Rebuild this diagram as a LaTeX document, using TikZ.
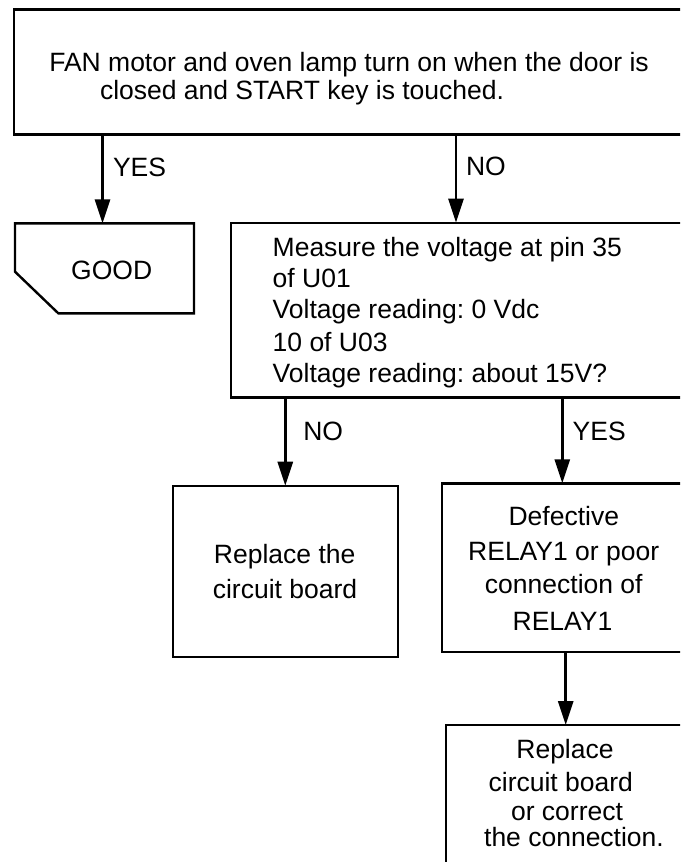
\documentclass[tikz,border=0pt]{standalone}
\usepackage{fontspec}
\setmainfont{Liberation Sans}
\usetikzlibrary{arrows.meta}
\frenchspacing
\begin{document}
\begin{tikzpicture}[x=1pt,y=-1pt,
  box/.style={draw=black, line width=2.4pt, rectangle, inner sep=0pt, outer sep=0pt},
  ghost/.style={rectangle, inner sep=0pt, outer sep=0pt},
  lbl/.style={inner sep=0pt, outer sep=0pt, font=\fontsize{26.5}{28}\selectfont},
  arr/.style={line width=2.9pt, -{Triangle[length=24pt,width=15pt]}},
]
\useasboundingbox (0,0) rectangle (680,862);
\fill[white] (0,0) rectangle (680,862);
\clip (0,0) rectangle (680,862);

% boxes
\node[box, minimum width=672pt, minimum height=125pt] (top) at (350,71.8) {};
\node[ghost, minimum width=179pt, minimum height=90pt] (good) at (104.5,268.3) {};
\draw[line width=2.4pt, line join=miter] (good.north west) -- (good.north east) -- (good.south east)
  -- ([xshift=43.3pt]good.south west) -- ([yshift=41.6pt]good.south west) -- cycle;
\node[box, minimum width=455pt, minimum height=174.6pt] (measure) at (458.5,310) {};
\node[box, minimum width=225pt, minimum height=171pt] (replace) at (285.2,571.2) {};
\node[box, minimum width=244.3pt, minimum height=168.9pt] (defective) at (563.85,567.75) {};
\node[box, minimum width=240.3pt, minimum height=175pt] (replace2) at (565.85,812.5) {};

% texts
\node[lbl, anchor=base west] (t1) at (49.3,71.7) {FAN motor and oven lamp turn on when the door is};
\node[lbl, anchor=base west] (t2) at (100,99.5) {closed and START key is touched.};
\node[lbl, anchor=base] (goodtxt) at (111.7,279.3) {GOOD};
\node[lbl, anchor=base west] (m1) at (272.7,256.7) {Measure the voltage at pin 35};
\node[lbl, anchor=base west] (m2) at (272.7,287.3) {of U01};
\node[lbl, anchor=base west] (m3) at (272.7,318.3) {Voltage reading: 0 Vdc};
\node[lbl, anchor=base west] (m4) at (272.7,351.2) {10 of U03};
\node[lbl, anchor=base west] (m5) at (272.7,382.7) {Voltage reading: about 15V?};
\node[lbl, anchor=base] (r1) at (284.7,563.3) {Replace the};
\node[lbl, anchor=base] (r2) at (285,598.3) {circuit board};
\node[lbl, anchor=base] (d1) at (563.8,525) {Defective};
\node[lbl, anchor=base] (d2) at (563.7,560.7) {RELAY1 or poor};
\node[lbl, anchor=base] (d3) at (563.8,593.3) {connection of};
\node[lbl, anchor=base] (d4) at (562.5,630) {RELAY1};
\node[lbl, anchor=base] (s1) at (565,758.3) {Replace};
\node[lbl, anchor=base] (s2) at (560.8,791.7) {circuit board};
\node[lbl, anchor=base] (s3) at (567,820) {or correct};
\node[lbl, anchor=base] (s4) at (574,846.7) {the connection.};

% labels
\node[lbl, anchor=base west] (yes1) at (113,176) {YES};
\node[lbl, anchor=base west] (no1) at (466,175) {NO};
\node[lbl, anchor=base west] (no2) at (303.3,440) {NO};
\node[lbl, anchor=base west] (yes2) at (572.7,440) {YES};

% connector x positions
\coordinate (xa) at (102.5,0);
\coordinate (xb) at (456,0);
\coordinate (xc) at (285.3,0);
\coordinate (xd) at (562.3,0);
\coordinate (xe) at (565.7,0);

\draw[arr] (top.south -| xa) -- (good.north -| xa);
\draw[arr] (top.south -| xb) -- (measure.north -| xb);
\draw[arr] (measure.south -| xc) -- (replace.north -| xc);
\draw[arr] (measure.south -| xd) -- (defective.north -| xd);
\draw[arr] (defective.south -| xe) -- (replace2.north -| xe);
\end{tikzpicture}
\end{document}
